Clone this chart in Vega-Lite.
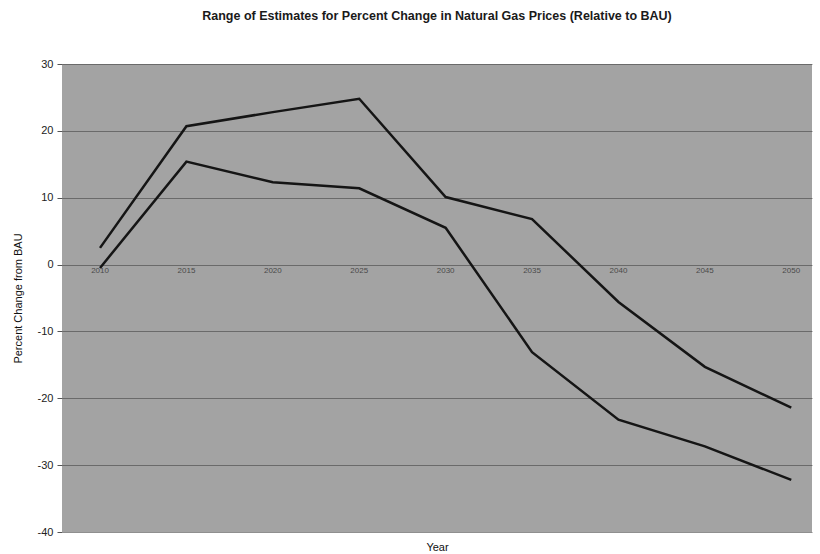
{
  "$schema": "https://vega.github.io/schema/vega-lite/v6.json",
  "autosize": "none",
  "width": 750,
  "height": 468,
  "padding": {"left": 62, "top": 64, "right": 8, "bottom": 22},
  "background": "white",
  "title": {
    "text": "Range of Estimates for Percent Change in Natural Gas Prices (Relative to BAU)",
    "font": "Liberation Sans",
    "fontSize": 12.5,
    "fontWeight": "bold",
    "color": "#1a1a1a",
    "anchor": "middle",
    "offset": 36
  },
  "config": {
    "view": {"fill": "#a3a3a3", "stroke": null},
    "font": "Liberation Sans"
  },
  "datasets": {
    "lines": [
      {"year": 2010, "value": 2.5, "series": "High"},
      {"year": 2015, "value": 20.7, "series": "High"},
      {"year": 2020, "value": 22.8, "series": "High"},
      {"year": 2025, "value": 24.8, "series": "High"},
      {"year": 2030, "value": 10.1, "series": "High"},
      {"year": 2035, "value": 6.8, "series": "High"},
      {"year": 2040, "value": -5.6, "series": "High"},
      {"year": 2045, "value": -15.3, "series": "High"},
      {"year": 2050, "value": -21.4, "series": "High"},
      {"year": 2010, "value": -0.5, "series": "Low"},
      {"year": 2015, "value": 15.4, "series": "Low"},
      {"year": 2020, "value": 12.3, "series": "Low"},
      {"year": 2025, "value": 11.4, "series": "Low"},
      {"year": 2030, "value": 5.5, "series": "Low"},
      {"year": 2035, "value": -13.1, "series": "Low"},
      {"year": 2040, "value": -23.2, "series": "Low"},
      {"year": 2045, "value": -27.2, "series": "Low"},
      {"year": 2050, "value": -32.2, "series": "Low"}
    ],
    "years": [
      {"year": 2010, "label": "2010"},
      {"year": 2015, "label": "2015"},
      {"year": 2020, "label": "2020"},
      {"year": 2025, "label": "2025"},
      {"year": 2030, "label": "2030"},
      {"year": 2035, "label": "2035"},
      {"year": 2040, "label": "2040"},
      {"year": 2045, "label": "2045"},
      {"year": 2050, "label": "2050"}
    ]
  },
  "layer": [
    {
      "data": {"name": "lines"},
      "mark": {"type": "line", "color": "#151515", "strokeWidth": 2.5, "clip": true},
      "encoding": {
        "x": {
          "field": "year",
          "type": "quantitative",
          "scale": {"domain": [2007.8, 2051.2], "nice": false, "zero": false},
          "axis": {
            "title": "Year",
            "labels": false,
            "ticks": false,
            "domain": false,
            "grid": false,
            "titleFont": "Liberation Sans",
            "titleFontSize": 11,
            "titleFontWeight": "normal",
            "titleColor": "#111",
            "titlePadding": 9
          }
        },
        "y": {
          "field": "value",
          "type": "quantitative",
          "scale": {"domain": [-40, 30], "nice": false},
          "axis": {
            "title": "Percent Change from BAU",
            "values": [-40, -30, -20, -10, 0, 10, 20, 30],
            "labelExpr": "replace(datum.label, '\u2212', '-')",
            "domain": false,
            "grid": true,
            "gridColor": "#444444",
            "gridWidth": 1,
            "gridOpacity": 0.6,
            "tickSize": 5,
            "tickColor": "#555",
            "labelFont": "Liberation Sans",
            "labelFontSize": 11,
            "labelColor": "#222",
            "labelPadding": 4,
            "titleFont": "Liberation Sans",
            "titleFontSize": 11,
            "titleFontWeight": "normal",
            "titleColor": "#111",
            "titlePadding": 14
          }
        },
        "detail": {"field": "series"}
      }
    },
    {
      "data": {"name": "years"},
      "mark": {"type": "text", "fontSize": 8, "color": "#4a4a4a", "baseline": "top", "dy": 2},
      "encoding": {
        "x": {"field": "year", "type": "quantitative"},
        "y": {"datum": 0},
        "text": {"field": "label"}
      }
    }
  ]
}
